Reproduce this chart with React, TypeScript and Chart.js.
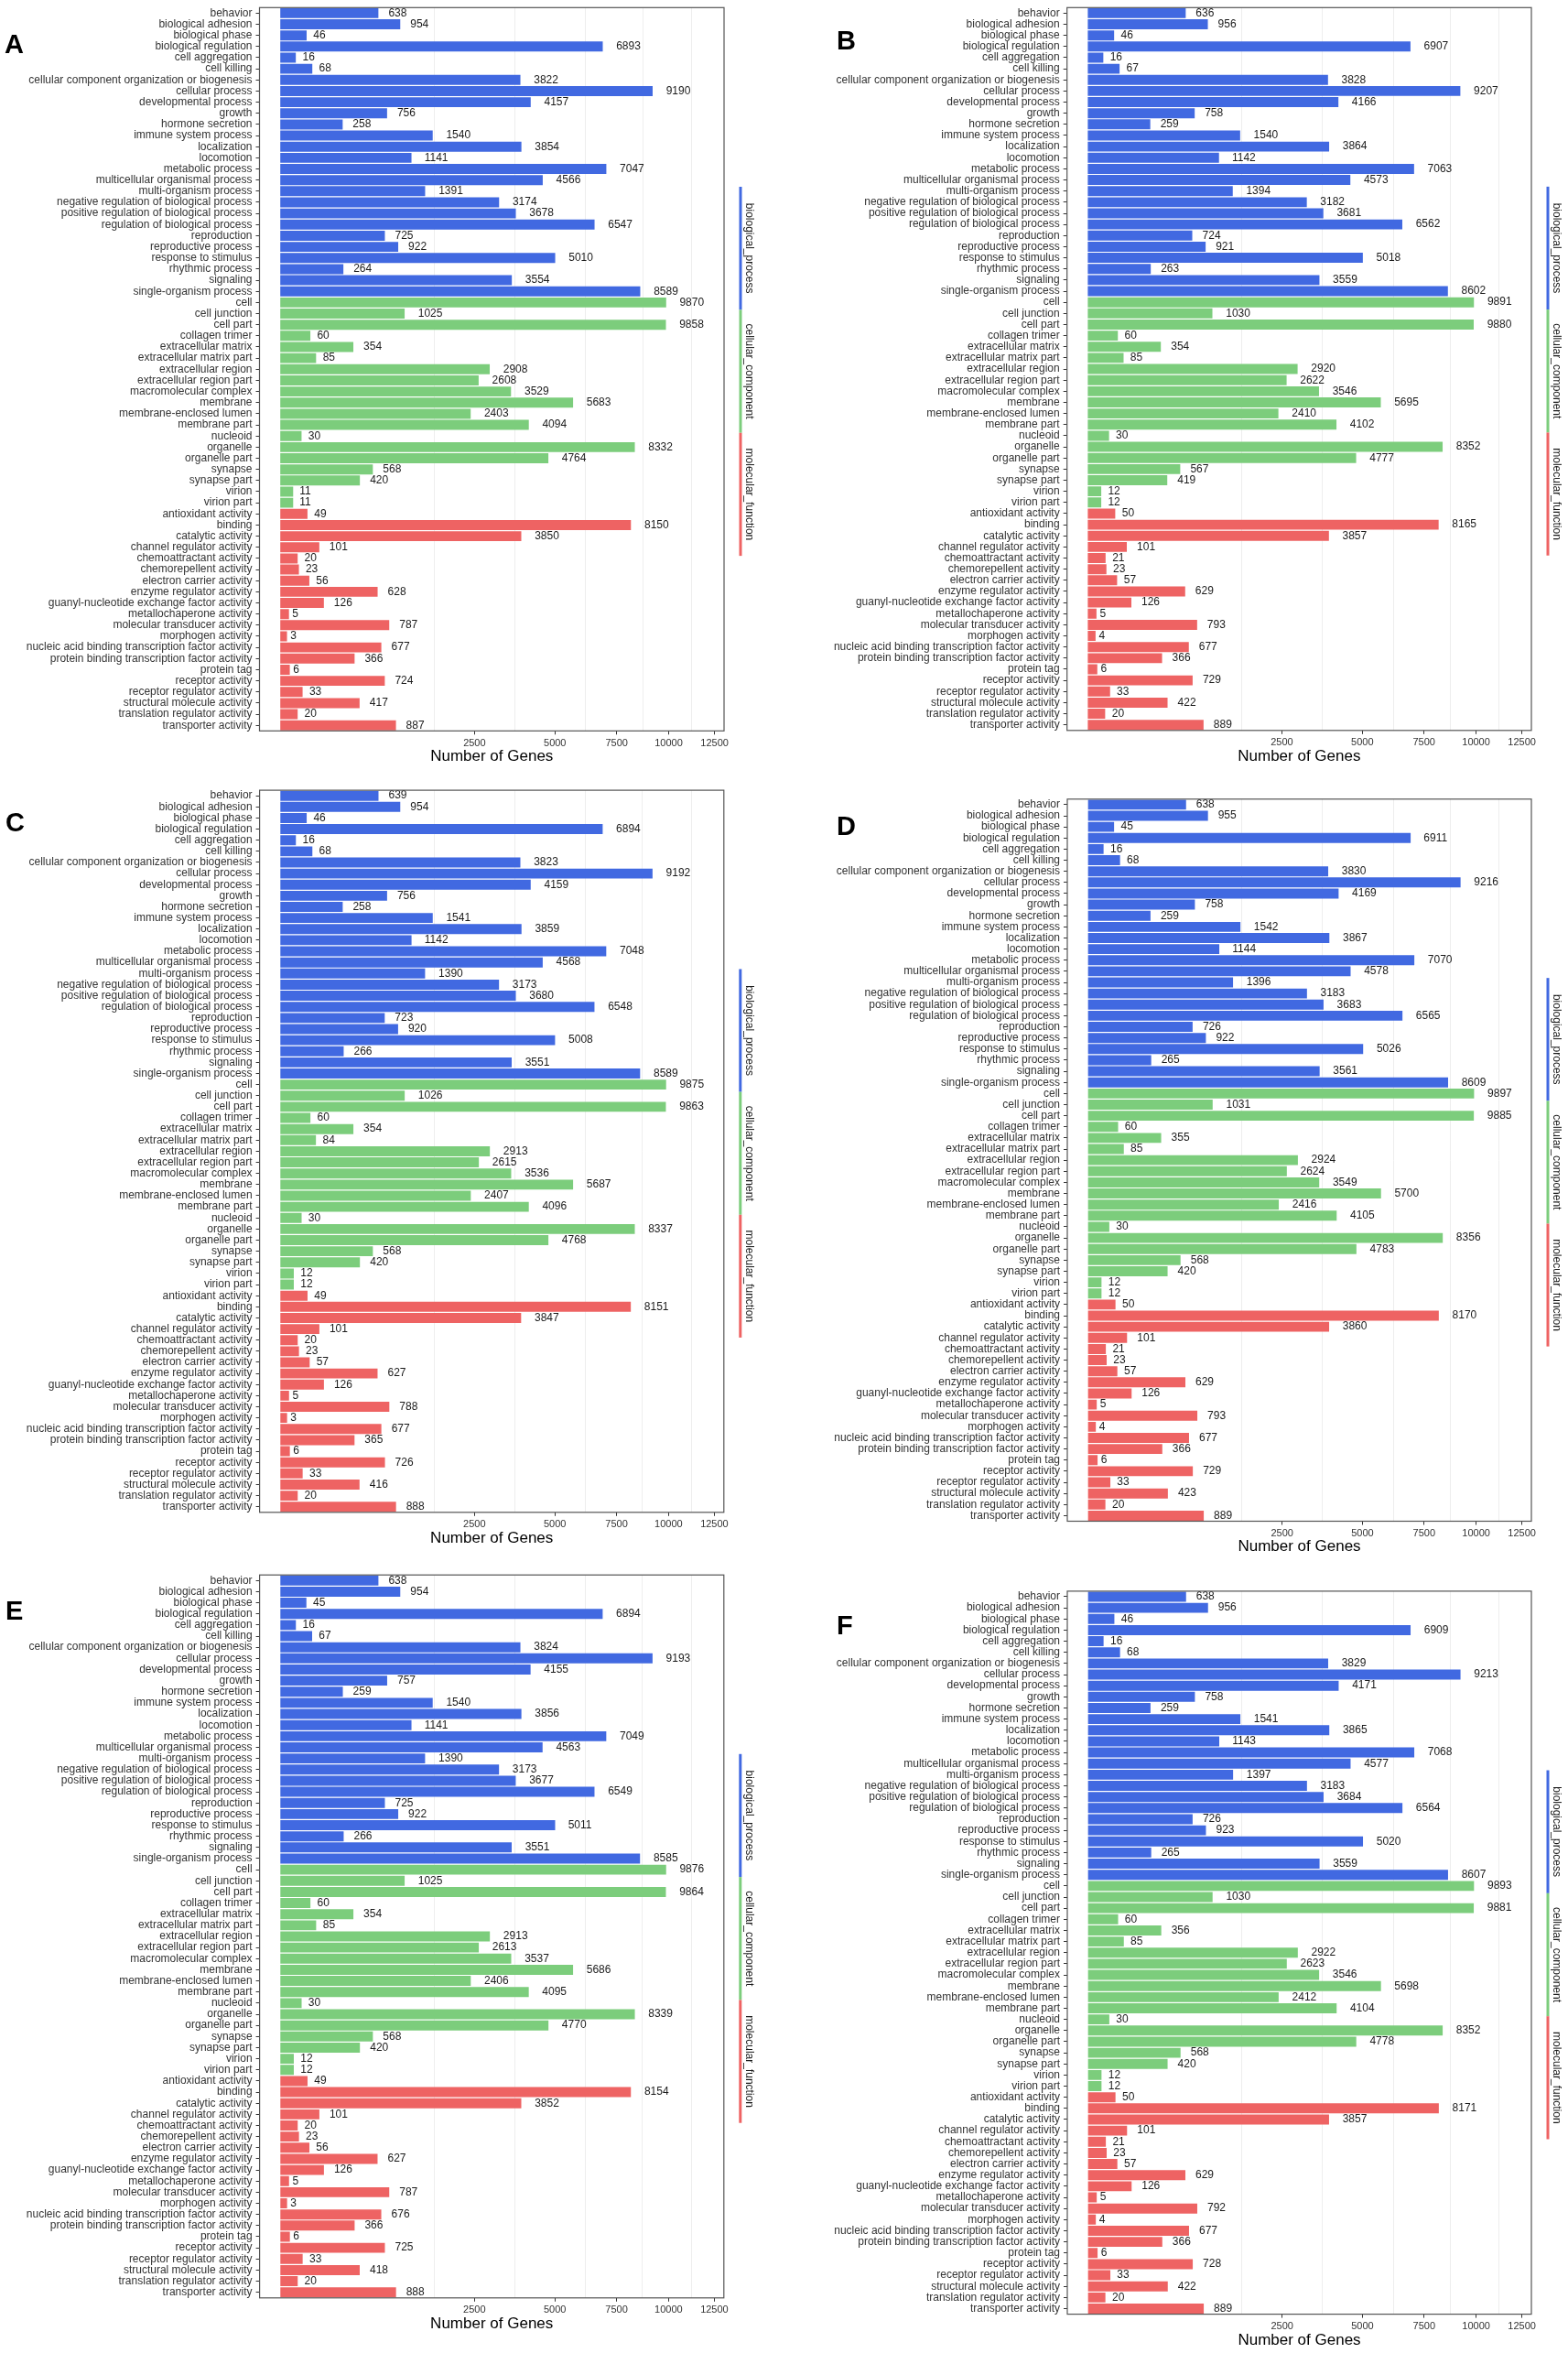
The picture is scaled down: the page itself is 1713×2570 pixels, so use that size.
import { useEffect, useRef } from "react"
import { Chart, LinearScale, registerables } from "chart.js"

const FONT = "'Liberation Sans', Arial, Helvetica, sans-serif"

const BP_TERMS = [
  "behavior", "biological adhesion", "biological phase", "biological regulation",
  "cell aggregation", "cell killing", "cellular component organization or biogenesis",
  "cellular process", "developmental process", "growth", "hormone secretion",
  "immune system process", "localization", "locomotion", "metabolic process",
  "multicellular organismal process", "multi-organism process",
  "negative regulation of biological process", "positive regulation of biological process",
  "regulation of biological process", "reproduction", "reproductive process",
  "response to stimulus", "rhythmic process", "signaling", "single-organism process",
]
const CC_TERMS = [
  "cell", "cell junction", "cell part", "collagen trimer", "extracellular matrix",
  "extracellular matrix part", "extracellular region", "extracellular region part",
  "macromolecular complex", "membrane", "membrane-enclosed lumen", "membrane part",
  "nucleoid", "organelle", "organelle part", "synapse", "synapse part", "virion", "virion part",
]
const MF_TERMS = [
  "antioxidant activity", "binding", "catalytic activity", "channel regulator activity",
  "chemoattractant activity", "chemorepellent activity", "electron carrier activity",
  "enzyme regulator activity", "guanyl-nucleotide exchange factor activity",
  "metallochaperone activity", "molecular transducer activity", "morphogen activity",
  "nucleic acid binding transcription factor activity",
  "protein binding transcription factor activity", "protein tag", "receptor activity",
  "receptor regulator activity", "structural molecule activity",
  "translation regulator activity", "transporter activity",
]

const A_BP = [638, 954, 46, 6893, 16, 68, 3822, 9190, 4157, 756, 258, 1540, 3854, 1141, 7047, 4566, 1391, 3174, 3678, 6547, 725, 922, 5010, 264, 3554, 8589]
const A_CC = [9870, 1025, 9858, 60, 354, 85, 2908, 2608, 3529, 5683, 2403, 4094, 30, 8332, 4764, 568, 420, 11, 11]
const A_MF = [49, 8150, 3850, 101, 20, 23, 56, 628, 126, 5, 787, 3, 677, 366, 6, 724, 33, 417, 20, 887]

const B_BP = [636, 956, 46, 6907, 16, 67, 3828, 9207, 4166, 758, 259, 1540, 3864, 1142, 7063, 4573, 1394, 3182, 3681, 6562, 724, 921, 5018, 263, 3559, 8602]
const B_CC = [9891, 1030, 9880, 60, 354, 85, 2920, 2622, 3546, 5695, 2410, 4102, 30, 8352, 4777, 567, 419, 12, 12]
const B_MF = [50, 8165, 3857, 101, 21, 23, 57, 629, 126, 5, 793, 4, 677, 366, 6, 729, 33, 422, 20, 889]

const C_BP = [639, 954, 46, 6894, 16, 68, 3823, 9192, 4159, 756, 258, 1541, 3859, 1142, 7048, 4568, 1390, 3173, 3680, 6548, 723, 920, 5008, 266, 3551, 8589]
const C_CC = [9875, 1026, 9863, 60, 354, 84, 2913, 2615, 3536, 5687, 2407, 4096, 30, 8337, 4768, 568, 420, 12, 12]
const C_MF = [49, 8151, 3847, 101, 20, 23, 57, 627, 126, 5, 788, 3, 677, 365, 6, 726, 33, 416, 20, 888]

const D_BP = [638, 955, 45, 6911, 16, 68, 3830, 9216, 4169, 758, 259, 1542, 3867, 1144, 7070, 4578, 1396, 3183, 3683, 6565, 726, 922, 5026, 265, 3561, 8609]
const D_CC = [9897, 1031, 9885, 60, 355, 85, 2924, 2624, 3549, 5700, 2416, 4105, 30, 8356, 4783, 568, 420, 12, 12]
const D_MF = [50, 8170, 3860, 101, 21, 23, 57, 629, 126, 5, 793, 4, 677, 366, 6, 729, 33, 423, 20, 889]

const E_BP = [638, 954, 45, 6894, 16, 67, 3824, 9193, 4155, 757, 259, 1540, 3856, 1141, 7049, 4563, 1390, 3173, 3677, 6549, 725, 922, 5011, 266, 3551, 8585]
const E_CC = [9876, 1025, 9864, 60, 354, 85, 2913, 2613, 3537, 5686, 2406, 4095, 30, 8339, 4770, 568, 420, 12, 12]
const E_MF = [49, 8154, 3852, 101, 20, 23, 56, 627, 126, 5, 787, 3, 676, 366, 6, 725, 33, 418, 20, 888]

const F_BP = [638, 956, 46, 6909, 16, 68, 3829, 9213, 4171, 758, 259, 1541, 3865, 1143, 7068, 4577, 1397, 3183, 3684, 6564, 726, 923, 5020, 265, 3559, 8607]
const F_CC = [9893, 1030, 9881, 60, 356, 85, 2922, 2623, 3546, 5698, 2412, 4104, 30, 8352, 4778, 568, 420, 12, 12]
const F_MF = [50, 8171, 3857, 101, 21, 23, 57, 629, 126, 5, 792, 4, 677, 366, 6, 728, 33, 422, 20, 889]

const X_TICKS = [2500, 5000, 7500, 10000, 12500]

const BLUE = "#4169E1"
const GREEN = "#7CCD7C"
const RED = "#EE6363"
const GROUPS: [string, string][] = [
  ["biological_process", BLUE],
  ["cellular_component", GREEN],
  ["molecular_function", RED],
]

// x axis is square-root transformed, limits given in sqrt units
const SQRT_MIN = -5.35
const SQRT_MAX = 114.25

const sgnSqrt = (v: number) => Math.sign(v) * Math.sqrt(Math.abs(v))
const sgnSq = (t: number) => Math.sign(t) * t * t

// minor grid lines sit half way between the breaks, in sqrt space
const sq = X_TICKS.map(Math.sqrt)
const ext = [2 * sq[0] - sq[1], ...sq]
const X_MINOR = ext.slice(1).map((t, i) => sgnSq((t + ext[i]) / 2))

class SqrtScale extends LinearScale {
  static id = "sqrt"

  buildTicks() {
    return [...X_MINOR, ...X_TICKS].sort((a, b) => a - b).map((value) => ({ value }))
  }

  getPixelForValue(value: number) {
    if (value === null || value === undefined || isNaN(value)) return NaN
    const a = sgnSqrt(this.min)
    const b = sgnSqrt(this.max)
    return this.getPixelForDecimal((sgnSqrt(value) - a) / (b - a))
  }

  getValueForPixel(pixel: number) {
    const a = sgnSqrt(this.min)
    const b = sgnSqrt(this.max)
    return sgnSq(a + this.getDecimalForPixel(pixel) * (b - a))
  }
}

Chart.register(...registerables, SqrtScale)
Chart.defaults.font.family = FONT

const X_AXIS_H = 38.5

type PanelProps = {
  letter: string
  bp: number[]
  cc: number[]
  mf: number[]
  box: number[] // left, top, width, height on the page
  plot: number[] // left, right, top, bottom inside the box
  letterAt: number[]
}

function GoPanel({ letter, bp, cc, mf, box, plot, letterAt }: PanelProps) {
  const chartRef = useRef<HTMLCanvasElement>(null)

  useEffect(() => {
    if (!chartRef.current) return
    const [, , bw, bh] = box
    const [pl, pr, pt, pb] = plot

    const labels = [...BP_TERMS, ...CC_TERMS, ...MF_TERMS]
    const values = [...bp, ...cc, ...mf]
    const colors = [...bp.map(() => BLUE), ...cc.map(() => GREEN), ...mf.map(() => RED)]

    const annotate = {
      id: "goAnnotate",
      afterDatasetsDraw(chart: any) {
        const { ctx, chartArea } = chart
        const meta = chart.getDatasetMeta(0)
        ctx.save()
        ctx.font = `12px ${FONT}`
        ctx.fillStyle = "#1a1a1a"
        ctx.textAlign = "left"
        ctx.textBaseline = "middle"
        meta.data.forEach((bar: any, i: number) => {
          const text = String(values[i])
          const w = ctx.measureText(text).width
          ctx.fillText(text, bar.x + 0.55 * w, bar.y)
        })
        ctx.strokeStyle = "#555555"
        ctx.lineWidth = 1.2
        ctx.strokeRect(chartArea.left, chartArea.top, chartArea.right - chartArea.left, chartArea.bottom - chartArea.top)
        ctx.restore()
      },
      afterDraw(chart: any) {
        const { ctx, chartArea } = chart
        const h = chartArea.bottom - chartArea.top
        const x = chartArea.right + 18
        const y0 = chartArea.top + 0.2477 * h
        const seg = 0.1701 * h
        ctx.save()
        GROUPS.forEach(([name, color], k) => {
          const ya = y0 + k * seg
          const yb = ya + seg
          ctx.strokeStyle = color
          ctx.lineWidth = 3
          ctx.beginPath()
          ctx.moveTo(x, ya)
          ctx.lineTo(x, yb)
          ctx.stroke()
          ctx.save()
          ctx.translate(x + 6, (ya + yb) / 2)
          ctx.rotate(Math.PI / 2)
          ctx.font = `12px ${FONT}`
          ctx.fillStyle = "#1a1a1a"
          ctx.textAlign = "center"
          ctx.textBaseline = "alphabetic"
          ctx.fillText(name, 0, 0)
          ctx.restore()
        })
        ctx.font = `bold 29px ${FONT}`
        ctx.fillStyle = "#000000"
        ctx.textAlign = "left"
        ctx.textBaseline = "alphabetic"
        ctx.fillText(letter, letterAt[0], letterAt[1])
        ctx.restore()
      },
    }

    const myChart = new Chart(chartRef.current, {
      type: "bar",
      data: {
        labels,
        datasets: [
          {
            data: values,
            backgroundColor: colors,
            borderWidth: 0,
            barPercentage: 0.9,
            categoryPercentage: 1,
          },
        ],
      },
      options: {
        indexAxis: "y",
        animation: false,
        responsive: true,
        maintainAspectRatio: false,
        events: [],
        layout: {
          padding: { left: 0, top: pt, right: bw - pr, bottom: bh - pb - X_AXIS_H },
        },
        plugins: {
          legend: { display: false },
          tooltip: { enabled: false },
        },
        scales: {
          x: {
            type: "sqrt" as any,
            min: sgnSq(SQRT_MIN),
            max: sgnSq(SQRT_MAX),
            bounds: "data",
            border: { display: false },
            grid: {
              color: (c: any) => (X_TICKS.includes(c.tick?.value) ? "rgba(0,0,0,0)" : "#EEEEEE"),
              tickColor: (c: any) => (X_TICKS.includes(c.tick?.value) ? "#333333" : "rgba(0,0,0,0)"),
              lineWidth: 1,
              tickLength: 4,
            },
            ticks: {
              autoSkip: false,
              maxRotation: 0,
              minRotation: 0,
              padding: 3,
              color: "#333333",
              font: { size: 11 },
              callback: (v: any) => (X_TICKS.includes(v) ? String(v) : ""),
            },
            title: {
              display: true,
              text: "Number of Genes",
              color: "#000000",
              font: { size: 17 },
              padding: { top: 0, bottom: 0 },
            },
            afterFit: (s: any) => {
              s.height = X_AXIS_H
              s.paddingLeft = 0
              s.paddingRight = 0
            },
          },
          y: {
            type: "category",
            offset: true,
            border: { display: false },
            grid: {
              offset: false,
              drawOnChartArea: false,
              drawTicks: true,
              tickLength: 4,
              tickColor: "#333333",
            },
            ticks: {
              autoSkip: false,
              padding: 4,
              color: "#333333",
              font: { size: 12 },
            },
            afterFit: (s: any) => {
              s.width = pl
              s.paddingTop = 0
              s.paddingBottom = 0
            },
          },
        },
      },
      plugins: [annotate],
    })

    return () => {
      myChart.destroy()
    }
  }, [])

  return (
    <div
      style={{
        position: "absolute",
        left: box[0],
        top: box[1],
        width: box[2],
        height: box[3],
      }}
    >
      <canvas ref={chartRef} />
    </div>
  )
}

export default function App() {
  return (
    <div
      style={{
        position: "absolute",
        left: 0,
        top: 0,
        width: 1713,
        height: 2570,
        background: "#ffffff",
        overflow: "hidden",
      }}
    >
      <GoPanel letter="A" bp={A_BP} cc={A_CC} mf={A_MF}
        box={[0, 0, 856, 855]} plot={[283.5, 791, 8.3, 798.3]} letterAt={[5, 58]} />
      <GoPanel letter="B" bp={B_BP} cc={B_CC} mf={B_MF}
        box={[856, 0, 857, 855]} plot={[309.7, 817, 8.3, 797.8]} letterAt={[58, 54]} />
      <GoPanel letter="C" bp={C_BP} cc={C_CC} mf={C_MF}
        box={[0, 855, 856, 857]} plot={[283.6, 790.8, 8.1, 796.8]} letterAt={[6, 53]} />
      <GoPanel letter="D" bp={D_BP} cc={D_CC} mf={D_MF}
        box={[856, 855, 857, 857]} plot={[310, 817, 17.8, 806.5]} letterAt={[58, 57]} />
      <GoPanel letter="E" bp={E_BP} cc={E_CC} mf={E_MF}
        box={[0, 1712, 856, 858]} plot={[283.6, 790.8, 8.2, 797.8]} letterAt={[6, 57]} />
      <GoPanel letter="F" bp={F_BP} cc={F_CC} mf={F_MF}
        box={[856, 1712, 857, 858]} plot={[310, 817, 25.9, 815.6]} letterAt={[58, 73]} />
    </div>
  )
}
